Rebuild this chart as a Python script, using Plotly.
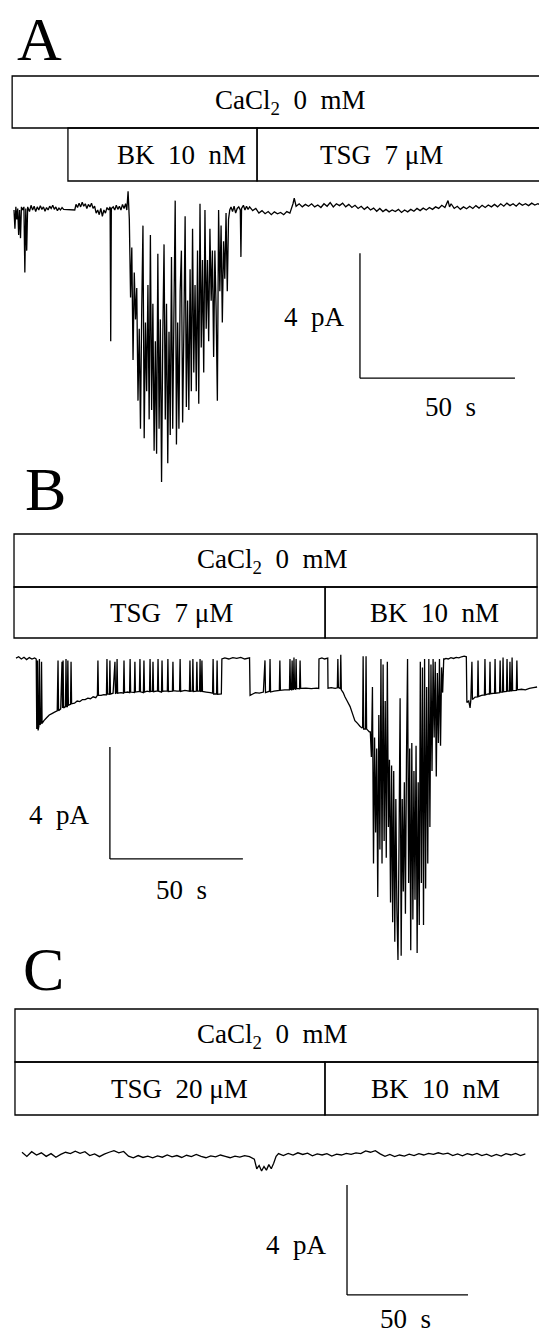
import plotly.graph_objects as go

W, H = 539, 1334
FONT = "Liberation Serif"

# ---------------- data: time (s), current (pA) ----------------
A_pre = [[0.0, 0.0], [0.3, -0.6], [0.6, 0.1], [0.9, -0.3], [1.2, 0.05], [1.5, -0.8], [1.8, 0.0], [2.1, -0.9],
         [2.4, 0.1], [2.8, 0.0], [3.2, 0.1], [3.5, -2.0], [3.8, 0.05], [4.1, -1.3], [4.4, 0.1], [5.0, -0.05],
         [5.5, 0.15], [6.0, 0.0], [6.5, 0.12], [7.0, -0.05], [7.5, 0.1], [8.0, 0.0], [8.5, 0.14], [9.0, 0.02],
         [9.5, 0.1], [10.0, -0.04], [10.5, 0.08], [11.0, 0.0], [11.5, 0.12], [12.0, 0.05], [12.5, 0.15],
         [13.0, 0.02], [13.5, 0.1], [14.0, -0.02], [14.5, 0.06], [15.0, 0.0], [15.5, 0.08], [16.0, 0.02],
         [19.6, 0.0], [20.0, 0.18], [20.5, 0.08], [21.0, 0.22], [21.5, 0.1], [22.0, 0.25], [22.5, 0.12],
         [23.0, 0.2], [23.5, 0.05], [24.0, 0.18], [24.5, 0.1], [25.0, 0.22], [25.5, 0.05], [26.0, 0.12],
         [26.5, -0.1], [27.0, 0.0], [27.5, -0.15], [28.0, 0.05], [28.5, -0.2], [29.0, 0.0], [29.5, -0.1],
         [30.0, 0.08], [30.5, 0.0], [31.0, 0.1], [31.2, -4.2], [31.4, 0.05], [32.0, 0.1], [32.5, 0.0],
         [33.0, 0.15], [33.5, 0.02], [34.0, 0.12], [34.5, 0.0], [35.0, 0.18], [35.5, 0.05], [36.0, 0.2],
         [36.4, 0.0]]

A_burst_t = [36.8, 37.2, 37.6, 38.0, 38.4, 38.8, 39.2, 39.6, 40.0, 40.4, 40.8, 41.2, 41.6, 42.0, 42.4, 42.8,
             43.2, 43.6, 44.0, 44.4, 44.8, 45.2, 45.6, 46.0, 46.4, 46.8, 47.2, 47.6, 48.0, 48.4, 48.8, 49.2,
             49.6, 50.0, 50.4, 50.8, 51.2, 51.6, 52.0, 52.4, 52.8, 53.2, 53.6, 54.0, 54.4, 54.8, 55.2, 55.6,
             56.0, 56.4, 56.8, 57.2, 57.6, 58.0, 58.4, 58.8, 59.2, 59.6, 60.0, 60.4, 60.8, 61.2, 61.6, 62.0,
             62.4, 62.8, 63.2, 63.6, 64.0, 64.4, 64.8, 65.2, 65.6, 66.0, 66.4, 66.8, 67.2, 67.6, 68.0, 68.4,
             68.8, 69.2, 69.6]
A_burst_i = [0.6, -0.3, -2.8, -1.2, -4.8, -2.0, -3.5, -2.5, -6.1, -3.8,
             -7.0, -3.2, -0.5, -7.3, -3.6, -5.8, -2.4, -6.7, -0.8, -6.4,
             -3.0, -7.7, -4.2, -7.8, -1.4, -7.0, -3.5, -8.7, -4.0, -1.1,
             -6.7, -3.0, -8.1, -3.9, -7.2, -1.5, -7.0, -3.2, 0.3, -7.5,
             -3.6, -7.0, -2.6, -1.3, -6.8, -3.8, -0.2, -6.3, -2.9, -6.4,
             -1.9, -5.8, -0.6, -5.2, -2.4, -5.8, -1.3, -6.2, 0.2, -4.4,
             -1.6, -5.2, 0.0, -3.8, -1.6, -4.2, -0.6, -2.9, -1.3, -4.7,
             -1.3, -3.2, -6.1, 0.0, -2.6, -0.5, -3.6, -1.0, -2.2, -0.1,
             -2.6, -0.3, 0.0]

A_post = [[70.0, 0.1], [70.5, -0.05], [71.0, 0.12], [71.5, -0.1], [72.0, 0.05], [72.5, 0.1], [73.0, 0.0],
          [73.2, -1.5], [73.4, 0.05], [74.0, 0.15], [74.5, 0.0], [75.0, 0.12], [75.5, 0.02], [76.0, 0.1],
          [77.0, -0.02], [78.0, 0.05], [79.0, -0.1], [80.0, -0.02], [81.0, -0.12], [82.0, -0.05],
          [83.0, -0.15], [84.0, -0.06], [85.0, -0.12], [86.0, -0.08], [87.0, -0.15], [88.0, -0.05],
          [89.0, -0.1], [90.0, 0.2], [90.4, 0.38], [91.0, 0.12], [92.0, 0.2], [93.0, 0.1], [94.0, 0.18],
          [95.0, 0.12], [96.0, 0.2], [97.0, 0.1], [98.0, 0.16], [99.0, 0.08], [100.0, 0.2], [101.0, 0.12],
          [102.0, 0.24], [103.0, 0.1], [104.0, 0.2], [105.0, 0.14], [106.0, 0.22], [107.0, 0.1],
          [108.0, 0.18], [109.0, 0.08], [110.0, 0.15], [111.0, 0.05], [112.0, 0.12], [113.0, 0.02],
          [114.0, 0.1], [115.0, 0.0], [116.0, 0.06], [117.0, -0.04], [118.0, 0.05], [119.0, -0.05],
          [120.0, 0.02], [121.0, -0.06], [122.0, 0.0], [123.0, -0.05], [124.0, 0.02], [125.0, -0.08],
          [126.0, 0.0], [127.0, -0.06], [128.0, 0.02], [129.0, -0.04], [130.0, 0.05], [131.0, -0.02],
          [132.0, 0.06], [133.0, 0.0], [134.0, 0.08], [135.0, 0.02], [136.0, 0.1], [137.0, 0.05],
          [138.0, 0.15], [139.0, 0.08], [140.0, 0.3], [140.5, 0.1], [141.0, 0.2], [142.0, 0.05],
          [143.0, 0.12], [144.0, 0.02], [145.0, 0.1], [146.0, 0.04], [147.0, 0.12], [148.0, 0.05],
          [149.0, 0.14], [150.0, 0.06], [151.0, 0.15], [152.0, 0.08], [153.0, 0.16], [154.0, 0.1],
          [155.0, 0.18], [156.0, 0.1], [157.0, 0.2], [158.0, 0.12], [159.0, 0.22], [160.0, 0.14],
          [161.0, 0.2], [162.0, 0.12], [163.0, 0.22], [164.0, 0.15], [165.0, 0.2], [166.0, 0.14],
          [167.0, 0.22], [168.0, 0.16], [169.0, 0.2], [169.4, 0.18]]

B_pre = [[0.0, 0.03], [1.0, 0.08], [2.0, 0.0], [3.0, 0.06], [4.0, -0.02], [5.0, 0.05], [6.0, 0.0], [7.0, 0.04],
         [7.6, 0.0], [7.8, -2.5], [8.1, -0.05], [8.3, -2.55], [8.6, -2.4], [8.8, 0.0], [9.0, -2.35], [9.4, -2.3],
         [9.6, -0.1], [9.8, -2.3], [10.5, -2.2], [11.5, -2.1], [12.5, -2.0], [13.5, -1.95], [14.5, -1.9],
         [15.5, -1.85], [15.8, -0.05], [16.0, -1.85], [16.8, -1.78], [17.3, -0.1], [17.5, -1.75], [17.7, -0.05],
         [17.9, -1.75], [18.6, -1.7], [18.8, 0.0], [19.0, -1.7], [19.3, -1.7], [19.5, -0.05], [19.7, -1.65],
         [20.5, -1.62], [20.7, -0.1], [20.9, -1.6], [22.0, -1.58], [23.0, -1.5], [24.0, -1.52], [25.0, -1.45],
         [26.0, -1.45], [27.0, -1.4], [28.0, -1.42], [29.0, -1.35], [30.0, -1.38], [30.6, -1.3], [30.8, -0.05],
         [31.0, -1.3], [32.0, -1.3], [33.0, -1.27], [34.0, -1.28], [34.2, 0.0], [34.4, -1.25], [35.1, -1.26],
         [35.3, -0.05], [35.5, -1.25], [36.5, -1.22], [37.2, -0.1], [37.4, -1.24], [37.8, -1.2], [38.0, 0.0],
         [38.2, -1.22], [39.5, -1.2], [40.4, -1.22], [40.6, -0.05], [40.8, -1.2], [42.0, -1.18], [42.7, -1.2],
         [42.9, 0.0], [43.1, -1.18], [44.5, -1.2], [44.7, -0.1], [44.9, -1.18], [46.4, -1.16], [46.6, 0.0],
         [46.8, -1.17], [47.9, -1.2], [48.1, -0.05], [48.3, -1.18], [49.3, -1.15], [50.2, -1.17], [50.4, 0.0],
         [50.6, -1.16], [51.3, -1.15], [51.5, -0.1], [51.7, -1.17], [53.2, -1.14], [53.4, 0.0], [53.6, -1.15],
         [54.7, -1.18], [54.9, -0.05], [55.1, -1.15], [56.9, -1.14], [57.1, 0.0], [57.3, -1.16], [58.8, -1.15],
         [59.0, -0.1], [59.2, -1.13], [60.5, -1.15], [61.5, -1.14], [61.7, 0.0], [61.9, -1.16], [63.5, -1.12],
         [65.2, -1.15], [65.4, -0.05], [65.6, -1.15], [66.3, -1.14], [66.5, 0.0], [66.7, -1.16], [67.8, -1.15],
         [68.0, -0.1], [68.2, -1.15], [69.0, -1.15], [69.2, 0.0], [69.4, -1.17], [69.7, -1.15], [69.9, -0.05],
         [70.1, -1.16], [71.5, -1.18], [73.0, -1.2], [73.9, -1.22], [74.1, 0.0], [74.3, -1.25], [75.4, -1.25],
         [75.6, -0.05], [75.8, -1.26], [77.2, -1.25],
         [77.4, 0.0], [78.5, 0.04], [80.0, 0.0], [81.5, 0.05], [83.0, 0.02], [84.5, 0.06], [86.0, 0.0],
         [87.8, 0.04],
         [88.0, -1.3], [89.0, -1.25], [90.0, -1.2], [91.5, -1.22], [93.0, -1.18], [93.6, -0.05], [93.8, -1.2],
         [95.3, -1.15], [95.5, 0.0], [95.7, -1.18], [97.0, -1.15], [99.0, -1.12], [99.2, -0.05], [99.4, -1.12],
         [101.0, -1.1], [102.8, -1.1], [103.0, 0.0], [103.2, -1.08], [103.6, -1.1], [103.8, -0.05],
         [104.0, -1.08], [104.3, -1.1], [104.5, 0.05], [104.7, -1.06], [105.1, -1.08], [105.3, 0.0],
         [105.5, -1.05], [106.6, -1.06], [106.8, -0.05], [107.0, -1.05], [109.0, -1.04], [111.0, -1.06],
         [113.0, -1.04], [113.8, -1.05],
         [113.9, 0.0], [115.0, 0.04], [116.0, 0.0], [117.2, 0.03],
         [117.3, -1.04], [118.5, -1.02], [120.0, -1.05], [120.8, -1.03], [121.0, 0.0], [121.2, -1.02],
         [121.9, -1.05], [122.1, 0.15], [122.3, -1.1], [123.0, -1.2], [123.7, -1.36], [124.5, -1.5],
         [125.6, -1.7], [126.5, -1.95], [127.4, -2.2], [128.4, -2.3], [129.3, -2.4], [130.0, -2.46],
         [130.3, -2.45], [130.5, 0.1], [130.7, -2.5], [131.4, -2.5], [131.6, 0.1], [131.8, -2.5],
         [132.3, -2.55], [132.8, -2.6]]

B_burst_t = [133.2, 133.6, 134.0, 134.4, 134.8, 135.2, 135.6, 136.0, 136.4, 136.8, 137.2, 137.6, 138.0, 138.4,
             138.8, 139.2, 139.6, 140.0, 140.4, 140.8, 141.2, 141.6, 142.0, 142.4, 142.8, 143.2, 143.6, 144.0,
             144.4, 144.8, 145.2, 145.6, 146.0, 146.4, 146.8, 147.2, 147.6, 148.0, 148.4, 148.8, 149.2, 149.6,
             150.0, 150.4, 150.8, 151.2, 151.6, 152.0, 152.4, 152.8, 153.2, 153.6, 154.0, 154.4, 154.8, 155.2,
             155.6, 156.0, 156.4, 156.8, 157.2, 157.6, 158.0, 158.4, 158.8, 159.2, 159.6, 160.0, 160.4, 160.8,
             161.2]
B_burst_i = [-2.6, -3.5, -1.0, -7.3, -2.8, -6.2, -3.2, -8.5, -2.0, -6.8,
             0.0, -7.3, -0.2, -6.5, -1.5, -7.1, -0.1, -6.0, -3.6, -8.7,
             -3.8, -9.4, -4.0, -10.1, -5.0, -9.0, -10.75, -6.5, -1.4, -10.6,
             -5.0, -8.3, -4.4, -9.1, -3.5, 0.0, -8.0, -3.2, -10.4, -3.0,
             -9.3, -4.0, -8.6, -3.1, -10.5, -4.4, -9.5, -0.1, -8.0, -0.3,
             -9.5, 0.0, -8.2, -1.0, -7.3, 0.0, -6.0, -0.2, -4.0, 0.0,
             -2.8, -0.1, -4.2, -0.5, -3.0, 0.0, -3.1, -0.3, -1.2, 0.0,
             0.0]

B_post = [[161.6, 0.02], [162.5, 0.0], [163.5, 0.05], [164.5, 0.02], [165.5, 0.06], [166.5, 0.04], [167.5, 0.08],
          [168.5, 0.1], [169.3, 0.08], [169.5, -1.55], [170.2, -1.5], [170.7, -1.75], [171.0, -1.45],
          [171.4, -0.1], [171.6, -1.45], [172.6, -1.36], [173.5, -1.35], [173.7, -0.05], [173.9, -1.34],
          [175.0, -1.3], [176.1, -1.28], [176.3, 0.0], [176.5, -1.28], [177.5, -1.25], [178.0, -1.25],
          [178.2, -0.1], [178.4, -1.24], [179.9, -1.22], [180.1, 0.0], [180.3, -1.22], [181.8, -1.2],
          [182.0, -0.05], [182.2, -1.18], [182.9, -1.18], [183.1, 0.05], [183.3, -1.17], [184.4, -1.16],
          [184.6, 0.0], [184.8, -1.15], [185.5, -1.15], [185.7, -0.1], [185.9, -1.14], [186.3, -1.14],
          [186.5, 0.05], [186.7, -1.13], [188.1, -1.12], [188.3, -0.05], [188.5, -1.1], [190.0, -1.08],
          [191.5, -1.1], [193.0, -1.05], [194.5, -1.02], [195.9, -1.0]]

C_trace = [[0, 0.1], [2, -0.05], [4, 0.12], [6, 0.0], [8, 0.08], [10, -0.05], [12, 0.05], [14, -0.08], [16, 0.02],
           [18, 0.1], [20, 0.05], [22, 0.14], [24, 0.06], [26, 0.12], [28, -0.02], [30, 0.04], [32, -0.06],
           [34, 0.03], [36, 0.1], [38, 0.16], [40, 0.08], [42, 0.13], [44, -0.04], [46, -0.1], [48, -0.02],
           [50, -0.09], [52, -0.04], [54, -0.1], [56, -0.03], [58, -0.08], [60, 0.0], [62, -0.07], [64, -0.02],
           [66, -0.09], [68, -0.01], [70, -0.06], [72, 0.02], [74, -0.05], [76, -0.1], [78, -0.03], [80, -0.07],
           [82, 0.0], [84, -0.05], [86, -0.1], [88, -0.04], [90, -0.08], [92, -0.02], [94, -0.06],
           [96, -0.15], [97, -0.5], [98, -0.38], [99, -0.58], [100, -0.42], [101, -0.55], [102, -0.35],
           [103, -0.5], [104, -0.3], [105, -0.05], [106, 0.05], [108, -0.02], [110, 0.06], [112, 0.0],
           [114, 0.08], [116, 0.02], [118, 0.07], [120, -0.03], [122, 0.04], [124, 0.0], [126, 0.05],
           [128, -0.04], [130, 0.03], [132, 0.0], [134, 0.06], [136, 0.02], [138, 0.08], [140, 0.05],
           [142, 0.15], [144, 0.1], [146, 0.16], [148, 0.04], [150, -0.05], [152, 0.02], [154, -0.06],
           [156, 0.0], [158, -0.04], [160, 0.03], [162, -0.02], [164, 0.05], [166, 0.0], [168, 0.06],
           [170, 0.02], [172, 0.08], [174, 0.03], [176, 0.07], [178, -0.02], [180, 0.04], [182, -0.03],
           [184, 0.05], [186, 0.0], [188, 0.06], [190, -0.02], [192, 0.03], [194, -0.05], [196, 0.02],
           [198, -0.04], [200, 0.05], [202, 0.0], [204, 0.06], [206, -0.02], [208, 0.04]]

# solution bars (labels, start/end time in s, label centre time in s)
A_solutions = ["CaCl<sub>2</sub>\u00a0\u00a00\u00a0\u00a0mM", "BK\u00a0\u00a010\u00a0\u00a0nM", "TSG\u00a0\u00a07\u00a0μM"]
A_starts = [-0.6, 17.4, 78.4]
A_ends = [185.0, 78.4, 185.0]
A_label_t = [89.0, 53.9, 118.7]

B_solutions = ["CaCl<sub>2</sub>\u00a0\u00a00\u00a0\u00a0mM", "TSG\u00a0\u00a07\u00a0μM", "BK\u00a0\u00a010\u00a0\u00a0nM"]
B_starts = [-0.75, -0.75, 116.2]
B_ends = [195.9, 116.2, 195.9]
B_label_t = [96.2, 58.3, 157.5]

C_solutions = ["CaCl<sub>2</sub>\u00a0\u00a00\u00a0\u00a0mM", "TSG\u00a0\u00a020\u00a0μM", "BK\u00a0\u00a010\u00a0\u00a0nM"]
C_starts = [-2.9, -2.9, 125.2]
C_ends = [213.2, 125.2, 213.2]
C_label_t = [103.3, 64.9, 170.7]

# scale bars: [time origin (s), current origin (pA)], lengths
A_bar = [111.6, -5.38]
B_bar = [35.3, -7.14]
C_bar = [134.3, -5.09]
BAR_PA = 4
BAR_S = 50
BAR_LABELS = ["4\u00a0\u00a0pA", "50\u00a0\u00a0s"]
LETTERS = ["A", "B", "C"]


def unzip(pairs):
    return [p[0] for p in pairs], [p[1] for p in pairs]


a1t, a1i = unzip(A_pre)
a3t, a3i = unzip(A_post)
b1t, b1i = unzip(B_pre)
b3t, b3i = unzip(B_post)
ct, ci = unzip(C_trace)

traces_t = [a1t + A_burst_t + a3t, b1t + B_burst_t + b3t, ct]
traces_i = [a1i + A_burst_i + a3i, b1i + B_burst_i + b3i, ci]

# ---------------- layout calibration (pixels) ----------------
panels = [
    dict(x0=14, sx=3.1, yb=210, sy=31.25, rows=[(76, 128), (128, 181)], letter=(39, 39),
         sol=A_solutions, st=A_starts, en=A_ends, lt=A_label_t, bar=A_bar,
         pa_shift=(-13, -1), s_shift=(13, -29)),
    dict(x0=16, sx=2.66, yb=659, sy=28.0, rows=[(534, 587), (587, 638)], letter=(45, 489),
         sol=B_solutions, st=B_starts, en=B_ends, lt=B_label_t, bar=B_bar,
         pa_shift=(-18, -12), s_shift=(5, -31)),
    dict(x0=22, sx=2.42, yb=1155, sy=27.5, rows=[(1009, 1062), (1062, 1115)], letter=(43, 969),
         sol=C_solutions, st=C_starts, en=C_ends, lt=C_label_t, bar=C_bar,
         pa_shift=(-18, -5), s_shift=(-2, -24)),
]


def py(p):
    return 1 - p / H


fig = go.Figure()
shapes, annotations = [], []
layout = dict(width=W, height=H, margin=dict(l=0, r=0, t=0, b=0), autosize=False,
              paper_bgcolor="white", plot_bgcolor="rgba(0,0,0,0)", showlegend=False)

for k, p in enumerate(panels):
    sfx = "" if k == 0 else str(k + 1)
    xa, ya = "x" + sfx, "y" + sfx
    common = dict(visible=False, showgrid=False, zeroline=False, fixedrange=True, domain=[0, 1])
    layout["xaxis" + sfx] = dict(range=[-p["x0"] / p["sx"], (W - p["x0"]) / p["sx"]], anchor=ya, **common)
    layout["yaxis" + sfx] = dict(range=[-(H - p["yb"]) / p["sy"], p["yb"] / p["sy"]], anchor=xa, **common)

    fig.add_trace(go.Scatter(x=traces_t[k], y=traces_i[k], mode="lines", xaxis=xa, yaxis=ya,
                             line=dict(color="black", width=1.3, simplify=False), hoverinfo="skip"))

    # solution boxes
    for j, lab in enumerate(p["sol"]):
        r0, r1 = p["rows"][0] if j == 0 else p["rows"][1]
        shapes.append(dict(type="rect", xref=xa, yref="paper", x0=p["st"][j], x1=p["en"][j],
                           y0=py(r1), y1=py(r0), line=dict(color="black", width=1.3)))
        annotations.append(dict(text=lab, xref=xa, yref="paper", x=p["lt"][j], y=py((r0 + r1) / 2),
                                xanchor="center", yanchor="middle", showarrow=False,
                                font=dict(family=FONT, size=27, color="black")))

    # scale bar
    bt, bi = p["bar"]
    shapes.append(dict(type="line", xref=xa, yref=ya, x0=bt, x1=bt, y0=bi, y1=bi + BAR_PA,
                       line=dict(color="black", width=1.3)))
    shapes.append(dict(type="line", xref=xa, yref=ya, x0=bt, x1=bt + BAR_S, y0=bi, y1=bi,
                       line=dict(color="black", width=1.3)))
    annotations.append(dict(text=BAR_LABELS[0], xref=xa, yref=ya, x=bt, y=bi + BAR_PA / 2,
                            xanchor="right", yanchor="middle", xshift=p["pa_shift"][0],
                            yshift=p["pa_shift"][1], showarrow=False,
                            font=dict(family=FONT, size=27, color="black")))
    annotations.append(dict(text=BAR_LABELS[1], xref=xa, yref=ya, x=bt + BAR_S / 2, y=bi,
                            xanchor="center", yanchor="middle", xshift=p["s_shift"][0],
                            yshift=p["s_shift"][1], showarrow=False,
                            font=dict(family=FONT, size=27, color="black")))

    # panel letter
    lx, ly = p["letter"]
    annotations.append(dict(text=LETTERS[k], xref="paper", yref="paper", x=lx / W, y=py(ly),
                            xanchor="center", yanchor="middle", showarrow=False,
                            font=dict(family=FONT, size=62, color="black")))

layout["shapes"] = shapes
layout["annotations"] = annotations
fig.update_layout(**layout)

fig.write_html("out.html", post_script="document.body.style.margin='0';")
